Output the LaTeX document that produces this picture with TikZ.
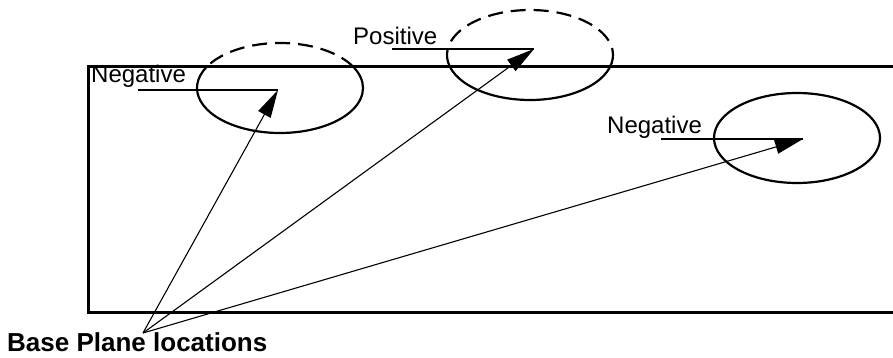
\documentclass[tikz,border=0pt]{standalone}
\usepackage{fontspec}
\setmainfont{Liberation Sans}
\usetikzlibrary{positioning, arrows.meta, calc}
\tikzset{
  plane/.style={line width=3pt},
  ring/.style={line width=2.2pt},
  hidden/.style={line width=2.2pt, dash pattern=on 15pt off 8pt},
  lead/.style={line width=2.2pt},
  pointer/.style={line width=1.1pt, -{Triangle[length=28pt,width=14pt]}},
  lab/.style={anchor=base west, inner sep=0pt, font=\fontsize{24}{28}\selectfont}}

\begin{document}
\begin{tikzpicture}[x=1pt,y=1pt]
  \useasboundingbox (0,0) rectangle (893,358);
    \coordinate (pl) at (88,291);
    \coordinate (pr) at (896,45);
        \coordinate (b) at (143,25);
           \coordinate (e1) at (280,270);
           \coordinate (e2) at (530,303);
           \coordinate (e3) at (797,220);
                \coordinate (u1) at (138,268);  \coordinate (t1) at (278,268);
                \coordinate (u2) at (392,309);  \coordinate (t2) at (534,309);
                \coordinate (u3) at (661,219);  \coordinate (t3) at (803,219);
         \draw [plane] (pl) rectangle (pr);
         % upper part of the rings lies out of the plane
         \draw [hidden] ($(e1)+(27.8:83 and 45)$) arc [start angle=27.8, end angle=152.2, x radius=83, y radius=45];
         \draw [ring] ($(e1)+(152.2:83 and 45)$) arc [start angle=152.2, end angle=387.8, x radius=83, y radius=45];
         \draw [hidden] ($(e2)+(-10:83 and 45)$) arc [start angle=-10, end angle=172, x radius=83, y radius=45];
         \draw [ring] ($(e2)+(172:83 and 45)$) arc [start angle=172, end angle=350, x radius=83, y radius=45];
         \draw [ring] (e3) ellipse [x radius=83, y radius=45];
          \draw [lead] (u1) -- (t1);
          \draw [lead] (u2) -- (t2);
          \draw [lead] (u3) -- (t3);
          \draw [pointer] (b) -- (t1);
          \draw [pointer] (b) -- (t2);
          \draw [pointer] (b) -- (t3);
     \node [lab] (n1) at (91,275) {Negative};
     \node [lab] (p2) at (353,313) {Positive};
     \node [lab] (n3) at (607,224) {Negative};
     \node [lab, font=\fontsize{26}{30}\selectfont\bfseries] (bp) at (7,6) {Base Plane locations};
\end{tikzpicture}
\end{document}
